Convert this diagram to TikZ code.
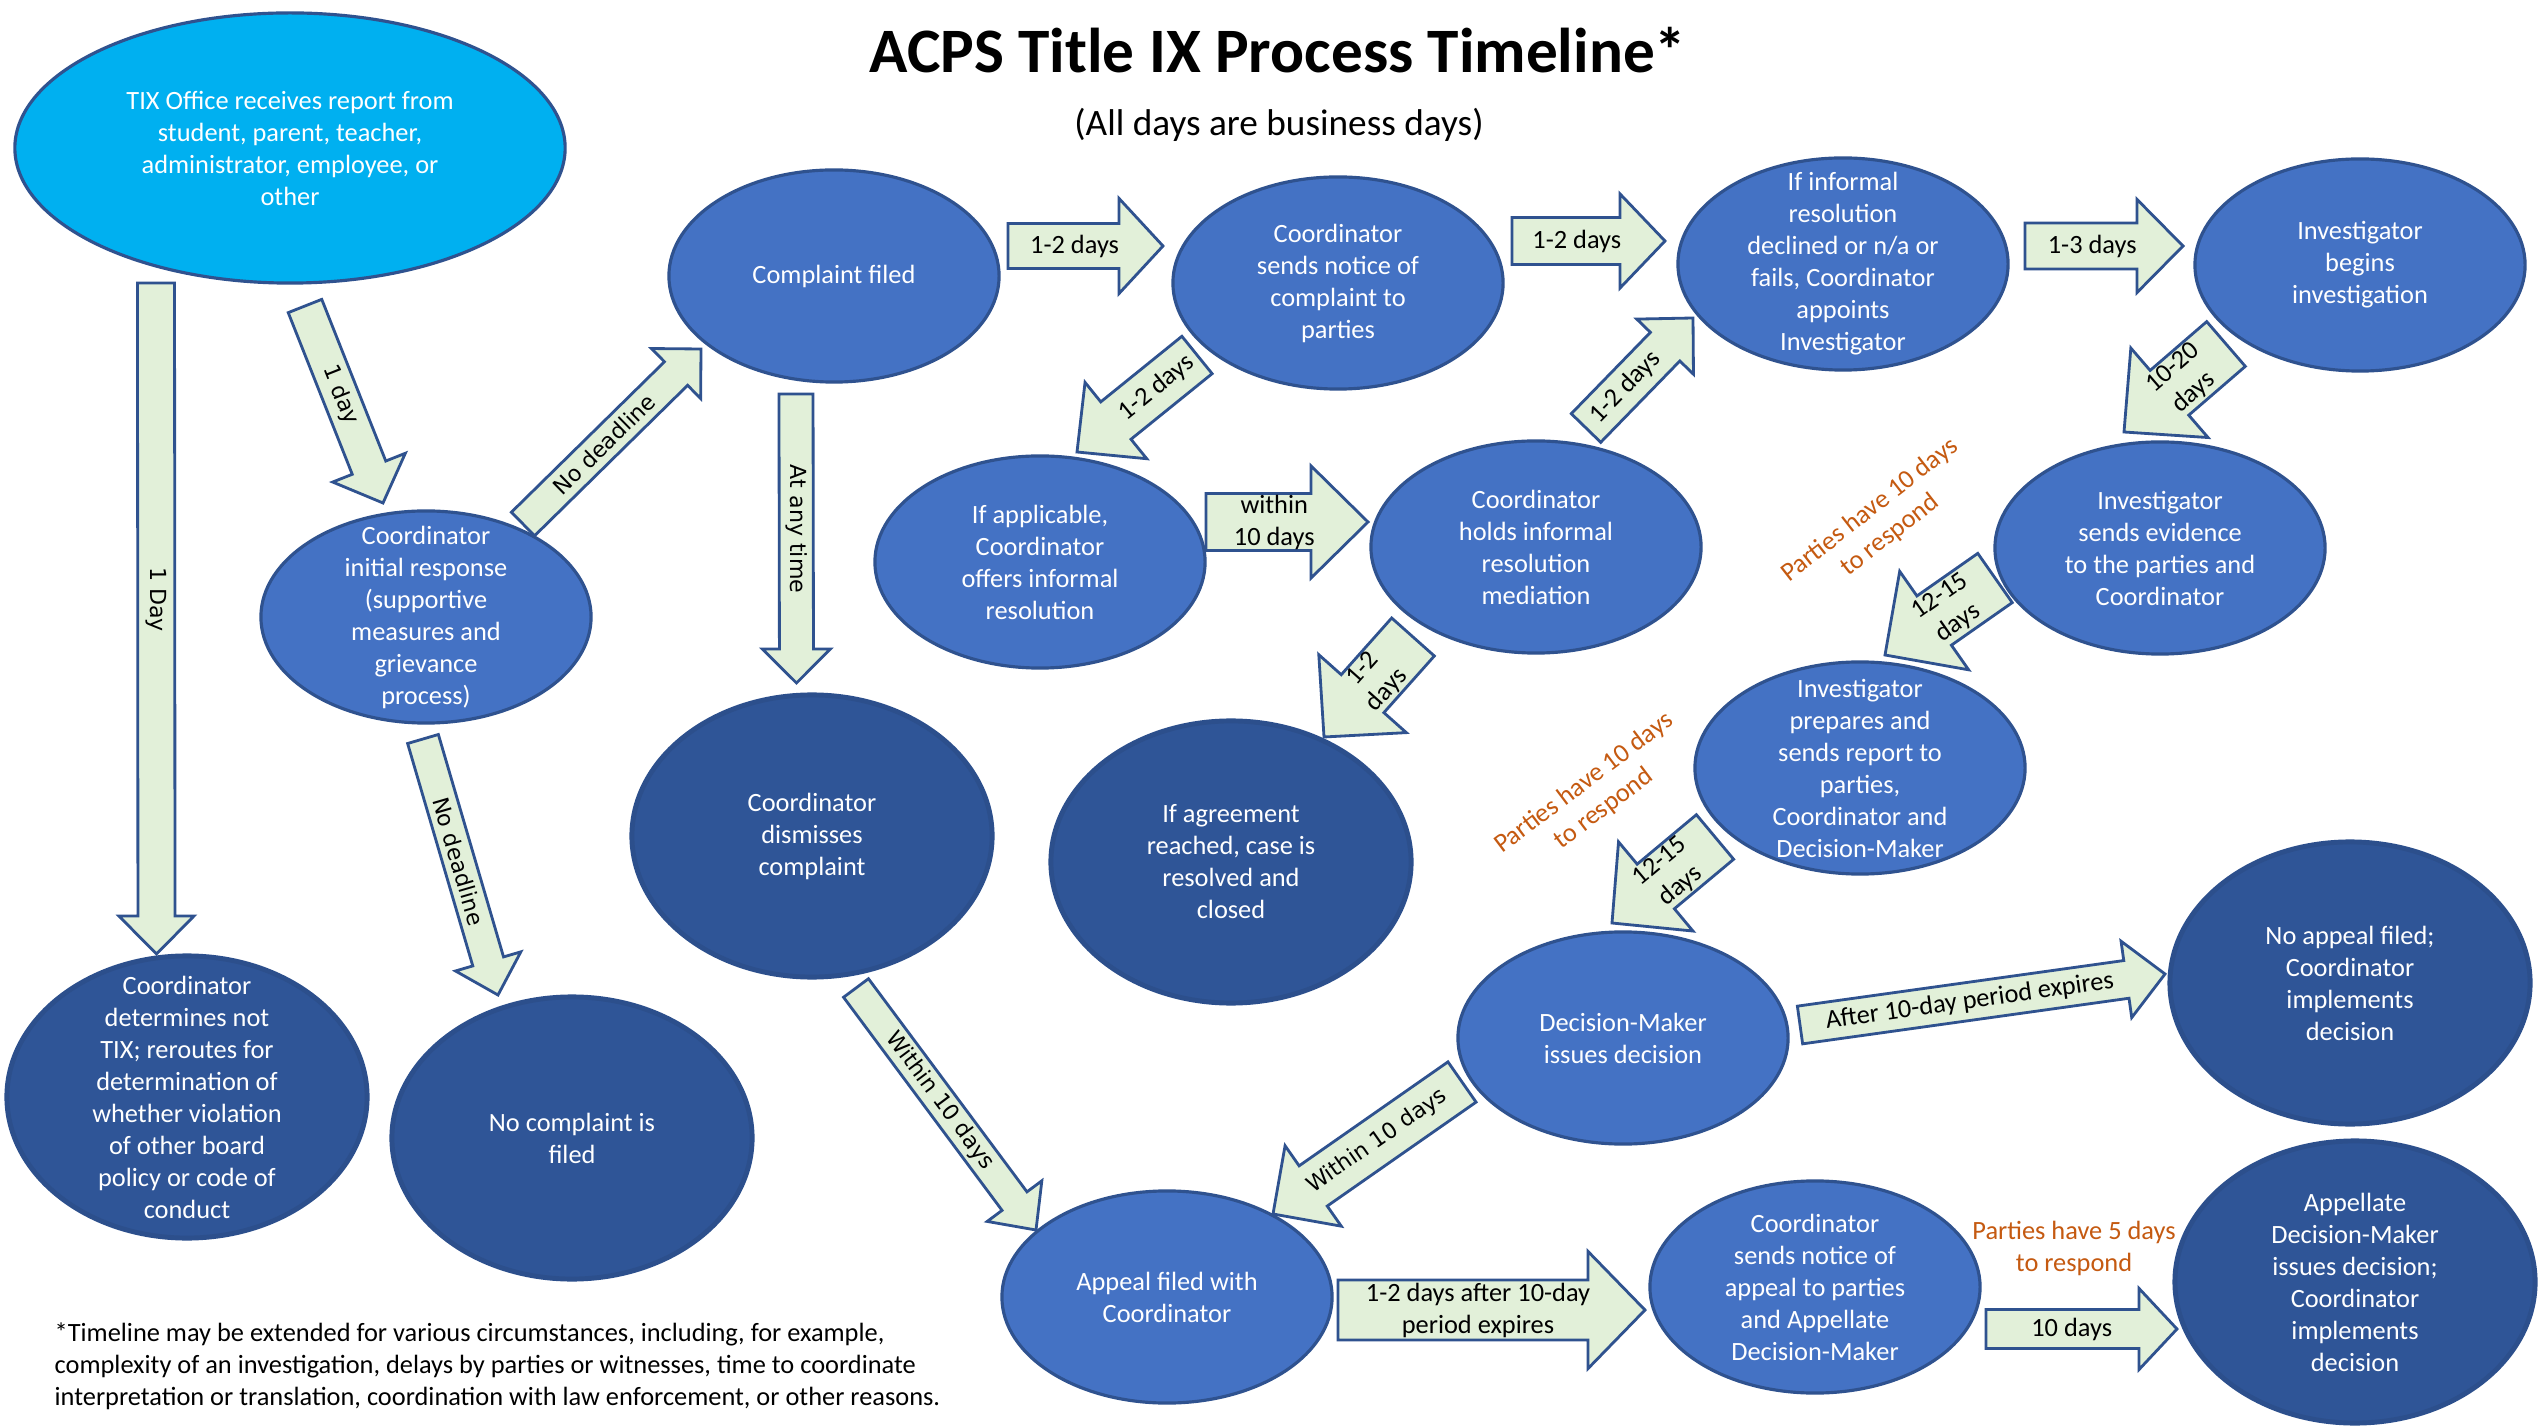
\documentclass[tikz,border=0pt]{standalone}
\usepackage{fontspec}
\setmainfont{Carlito}
\newfontfamily\verdfont{DejaVu Sans}
\usetikzlibrary{shapes.geometric,calc}

\definecolor{medblue}{RGB}{68,114,196}
\definecolor{darkblue}{RGB}{47,85,151}
\definecolor{darkrim}{RGB}{44,79,140}
\definecolor{rimblue}{RGB}{47,82,143}
\definecolor{skyblue}{RGB}{0,176,240}
\definecolor{arrgreen}{RGB}{226,240,217}
\definecolor{respond}{RGB}{197,90,17}

\tikzset{
  bub/.style={ellipse, draw=rimblue, line width=0.9pt, fill=medblue, inner sep=0pt, minimum width=3.3cm, minimum height=2.12cm},
  dbub/.style={bub, fill=darkblue, draw=darkrim, line width=1.4pt, minimum width=3.6cm, minimum height=2.82cm},
  etxt/.style={text=white, align=center, inner sep=0pt, font=\fontsize{7.5}{9.1}\selectfont},
  blk/.style={draw=rimblue, fill=arrgreen, line width=0.8pt, line join=miter},
  lbl/.style={align=center, inner sep=0pt, font=\fontsize{7.5}{9.1}\selectfont},
  vlbl/.style={font=\verdfont\fontsize{6.3}{7.6}\selectfont},
  resp/.style={lbl, text=respond},
}

% block arrow: [label opts]{tail}{tip}{shaft}{head}{head length}{label}, sizes in px
\newcommand{\blockarrow}[7][]{%
  \coordinate (hb) at ($(#3)!#6*0.01cm!(#2)$);
  \draw[blk] ($(#2)!#4*0.005cm!90:(#3)$) -- ($(hb)!#4*0.005cm!-90:(#2)$) -- ($(hb)!#5*0.005cm!-90:(#2)$) -- (#3)
    -- ($(hb)!#5*0.005cm!90:(#2)$) -- ($(hb)!#4*0.005cm!90:(#2)$) -- ($(#2)!#4*0.005cm!-90:(#3)$) -- cycle;
  \path (#2) -- (hb) node[lbl, sloped, pos=0.6, #1] {#7};
}

\begin{document}
\begin{tikzpicture}[x=0.01cm,y=-0.01cm]
\fill[white] (0,0) rectangle (2539,1428);
\useasboundingbox (0,0) rectangle (2539,1428);

% Title
\node[font=\bfseries\fontsize{18}{22}\selectfont] (title) at (1278,50) {ACPS Title IX Process Timeline*};
\node[font=\fontsize{10.6}{13}\selectfont] (sub) at (1279,125) {(All days are business days)};

% Ellipses
\node[bub, fill=skyblue, minimum width=5.5cm, minimum height=2.7cm, label={[etxt]center:{TIX Office receives report from\\student, parent, teacher,\\administrator, employee, or\\other}}] (tix) at (290,148) {};
\node[bub, label={[etxt]center:{Complaint filed}}] (cf) at (834,276) {};
\node[bub, label={[etxt]center:{Coordinator\\sends notice of\\complaint to\\parties}}] (sn) at (1338,283) {};
\node[bub, label={[etxt]center:{If informal\\resolution\\declined or n/a or\\fails, Coordinator\\appoints\\Investigator}}] (ifd) at (1843,264) {};
\node[bub, label={[etxt]center:{Investigator\\begins\\investigation}}] (ib) at (2360,265) {};
\node[bub, label={[etxt]center:{Coordinator\\initial response\\(supportive\\measures and\\grievance\\process)}}] (cir) at (426,617) {};
\node[bub, label={[etxt]center:{If applicable,\\Coordinator\\offers informal\\resolution}}] (oir) at (1040,562) {};
\node[bub, label={[etxt]center:{Coordinator\\holds informal\\resolution\\mediation}}] (hir) at (1536,547) {};
\node[bub, label={[etxt]center:{Investigator\\sends evidence\\to the parties and\\Coordinator}}] (se) at (2160,548) {};
\node[bub, label={[etxt]center:{Investigator\\prepares and\\sends report to\\parties,\\Coordinator and\\Decision-Maker}}] (rep) at (1860,768) {};
\node[bub, label={[etxt]center:{Decision-Maker\\issues decision}}] (dm) at (1623,1038) {};
\node[bub, label={[etxt]center:{Appeal filed with\\Coordinator}}] (ap) at (1167,1297) {};
\node[bub, label={[etxt]center:{Coordinator\\sends notice of\\appeal to parties\\and Appellate\\Decision-Maker}}] (sna) at (1815,1287) {};
\node[dbub, label={[etxt]center:{Coordinator\\dismisses\\complaint}}] (dis) at (812,836) {};
\node[dbub, label={[etxt]center:{If agreement\\reached, case is\\resolved and\\closed}}] (agr) at (1231,862) {};
\node[dbub, label={[etxt]center:{Coordinator\\determines not\\TIX; reroutes for\\determination of\\whether violation\\of other board\\policy or code of\\conduct}}] (nt) at (187,1097) {};
\node[dbub, label={[etxt]center:{No complaint is\\filed}}] (nc) at (572,1138) {};
\node[dbub, label={[etxt]center:{No appeal filed;\\Coordinator\\implements\\decision}}] (na) at (2350,983) {};
\node[dbub, label={[etxt]center:{Appellate\\Decision-Maker\\issues decision;\\Coordinator\\implements\\decision}}] (adm) at (2355,1282) {};

% Arrow ends
\coordinate (s1) at (156,283);   \coordinate (e1) at (156.5,954);
\coordinate (s2) at (305,306);   \coordinate (e2) at (383,503);
\coordinate (s3) at (523,524);   \coordinate (e3) at (701,349);
\coordinate (s4) at (423,739);   \coordinate (e4) at (498,995);
\coordinate (s5) at (796,394);   \coordinate (e5) at (796.5,683);
\coordinate (s6) at (1008,246);  \coordinate (e6) at (1163,246);
\coordinate (s7) at (1512,241);  \coordinate (e7) at (1665,241);
\coordinate (s8) at (2025,246);  \coordinate (e8) at (2183,246);
\coordinate (s9) at (1197,355);  \coordinate (e9) at (1077,452);
\coordinate (s10) at (1206,522); \coordinate (e10) at (1368,522);
\coordinate (s11) at (1586,428); \coordinate (e11) at (1693,318);
\coordinate (s12) at (1413,637); \coordinate (e12) at (1324,737);
\coordinate (s13) at (2226,344); \coordinate (e13) at (2124,432);
\coordinate (s14) at (1995,578); \coordinate (e14) at (1885,655);
\coordinate (s15) at (1715,837); \coordinate (e15) at (1612,923);
\coordinate (s16) at (856,988);  \coordinate (e16) at (1036,1230);
\coordinate (s17) at (1462,1082);\coordinate (e17) at (1273,1214);
\coordinate (s18) at (1800,1025);\coordinate (e18) at (2165,974);
\coordinate (s19) at (1338,1310);\coordinate (e19) at (1645,1310);
\coordinate (s20) at (1986,1329);\coordinate (e20) at (2177,1329);

% Block arrows
\blockarrow[vlbl,pos=0.5]{s1}{e1}{37}{75}{38}{1 Day}
\blockarrow[vlbl,pos=0.55]{s2}{e2}{36}{78}{38}{1 day}
\blockarrow[vlbl,pos=0.53]{s3}{e3}{33}{70}{35}{No deadline}
\blockarrow[vlbl,pos=0.55]{s4}{e4}{32}{68}{35}{No deadline}
\blockarrow[vlbl,pos=0.53]{s5}{e5}{34}{68}{34}{At any time}
\blockarrow{s6}{e6}{45}{95}{44}{1-2 days}
\blockarrow{s7}{e7}{47}{94}{45}{1-2 days}
\blockarrow{s8}{e8}{46}{93}{46}{1-3 days}
\blockarrow[pos=0.5]{s9}{e9}{48}{98}{50}{1-2 days}
\blockarrow[pos=0.65]{s10}{e10}{57}{112}{57}{within\\10 days}
\blockarrow[pos=0.5]{s11}{e11}{41}{79}{40}{1-2 days}
\blockarrow[pos=0.75]{s12}{e12}{57}{117}{58}{1-2\\days}
\blockarrow[pos=0.75]{s13}{e13}{59}{118}{60}{10-20\\days}
\blockarrow[pos=0.75]{s14}{e14}{60}{120}{60}{12-15\\days}
\blockarrow[pos=0.75]{s15}{e15}{58}{116}{57}{12-15\\days}
\blockarrow[vlbl,pos=0.53]{s16}{e16}{31}{68}{36}{Within 10 days}
\blockarrow[vlbl,pos=0.57]{s17}{e17}{49}{98}{49}{Within 10 days}
\blockarrow[pos=0.52]{s18}{e18}{38}{77}{39}{After 10-day period expires}
\blockarrow[pos=0.56]{s19}{e19}{60}{117}{57}{1-2 days after 10-day\\period expires}
\blockarrow[pos=0.56]{s20}{e20}{39}{81}{38}{10 days}

% Response windows
\node[resp, rotate=38] (resp1) at (1880,523) {Parties have 10 days\\to respond};
\node[resp, rotate=37] (resp2) at (1594,796) {Parties have 10 days\\to respond};
\node[resp] (resp3) at (2074,1248) {Parties have 5 days\\to respond};

% Text Node
\node[lbl, anchor=west, align=left] (note) at (54,1366) {*Timeline may be extended for various circumstances, including, for example,\\complexity of an investigation, delays by parties or witnesses, time to coordinate\\interpretation or translation, coordination with law enforcement, or other reasons.};

\end{tikzpicture}
\end{document}
